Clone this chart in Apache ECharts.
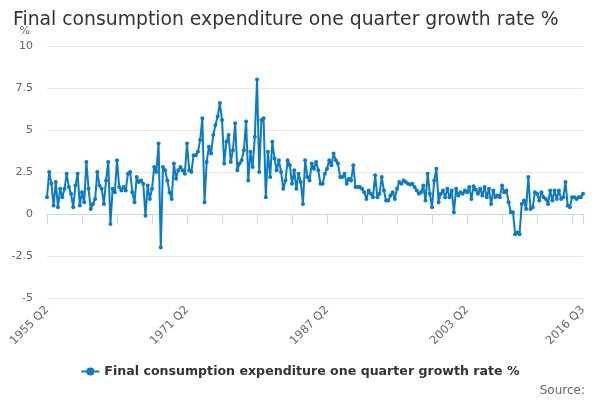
<!DOCTYPE html>
<html>
<head>
<meta charset="utf-8">
<style>
  html, body { margin: 0; padding: 0; background: #fff; }
  #chart { width: 600px; height: 400px; }
</style>
<script src="https://cdn.jsdelivr.net/npm/echarts@6/dist/echarts.min.js"></script>
</head>
<body>
<div id="chart"></div>
<script>
// quarters from 1955 Q2 to 2016 Q3
const startYear = 1955;
const startQuarter = 2;
const seriesName = 'Final consumption expenditure one quarter growth rate %';

// one quarter growth rate, %
const growth = [
    1.0, 2.5, 1.8, 0.5, 1.9, 0.4, 1.5, 1.0, 1.5, 2.4,
    1.6, 1.2, 0.4, 1.7, 2.4, 0.5, 1.3, 0.7, 3.1, 1.5,
    0.3, 0.6, 0.9, 2.5, 1.7, 1.5, 0.6, 2.0, 3.1, -0.6,
    1.5, 1.3, 3.2, 1.6, 1.4, 1.6, 1.4, 2.4, 2.5, 1.3,
    0.7, 2.2, 1.9, 2.0, 1.8, -0.1, 1.7, 0.9, 1.5, 2.8,
    2.5, 4.2, -2.0, 2.8, 2.6, 2.0, 1.3, 0.9, 3.0, 2.1,
    2.6, 2.8, 2.6, 2.4, 4.2, 2.6, 2.5, 3.5, 3.5, 3.7,
    4.4, 5.7, 0.7, 3.1, 4.0, 3.6, 4.7, 5.3, 5.8, 6.6,
    5.6, 3.0, 4.3, 4.7, 3.1, 3.8, 5.4, 2.6, 3.0, 3.2,
    3.8, 5.5, 2.0, 3.7, 2.8, 4.6, 8.0, 2.5, 5.6, 5.7,
    1.0, 3.7, 2.2, 4.3, 3.3, 2.6, 3.2, 2.5, 1.5, 2.0,
    3.2, 2.9, 1.8, 2.6, 1.5, 2.4, 1.9, 0.6, 3.2, 2.2,
    2.0, 3.0, 2.7, 3.1, 2.6, 1.8, 1.8, 2.4, 2.7, 3.2,
    2.9, 3.6, 3.2, 3.0, 2.2, 2.2, 2.4, 1.8, 2.1, 2.0,
    2.9, 1.6, 1.6, 1.6, 1.5, 1.3, 0.9, 1.4, 1.2, 1.0,
    2.3, 1.0, 1.2, 2.2, 1.4, 0.8, 0.8, 1.1, 1.3, 0.9,
    1.5, 1.9, 1.8, 2.0, 1.9, 1.8, 1.75, 1.8, 1.6, 1.4,
    1.2, 1.3, 1.7, 0.8, 2.4, 1.2, 0.4, 2.0, 2.7, 0.7,
    1.2, 1.4, 1.0, 1.5, 1.0, 1.4, 0.1, 1.5, 1.1, 1.3,
    1.2, 1.4, 1.3, 1.6, 0.9, 1.65, 1.45, 1.2, 1.5, 1.1,
    1.6, 1.0, 1.5, 0.6, 1.4, 1.0, 1.1, 1.0, 1.7, 1.3,
    1.4, 0.7, 0.1, 0.1, -1.2, -1.1, -1.2, 0.6, 0.8, 0.3,
    2.2, 0.3, 0.4, 1.3, 1.2, 0.8, 1.3, 1.0, 0.9, 0.6,
    1.4, 0.8, 1.4, 0.9, 1.4, 0.9, 1.0, 1.9, 0.5, 0.4,
    1.0, 1.0, 0.9, 1.0, 1.0, 1.2
];

// category labels
const quarters = [];
for (let i = 0; i < growth.length; i++) {
    let q = startQuarter - 1 + i;
    quarters.push((startYear + Math.floor(q / 4)) + ' Q' + (q % 4 + 1));
}
const lastIndex = quarters.length - 1;

const chart = echarts.init(document.querySelector('#chart'));
chart.setOption({
    animation: false,
    textStyle: {
        fontFamily: 'DejaVu Sans'
    },
    title: [
        {
            text: 'Final consumption expenditure one quarter growth rate %',
            left: 8,
            top: 6,
            textStyle: {
                fontSize: 18.8,
                fontWeight: 'normal',
                color: '#333'
            }
        },
        {
            text: 'Source:',
            right: 10,
            top: 380,
            textStyle: {
                fontSize: 12,
                fontWeight: 'normal',
                color: '#666'
            }
        }
    ],
    legend: {
        bottom: 17,
        left: 'center',
        itemWidth: 18,
        itemHeight: 10,
        itemGap: 6,
        textStyle: {
            fontSize: 12.6,
            fontWeight: 'bold',
            color: '#333'
        },
        data: [seriesName]
    },
    grid: {
        left: 47,
        right: 17,
        top: 46,
        bottom: 102
    },
    xAxis: {
        type: 'category',
        data: quarters,
        boundaryGap: false,
        axisLine: {
            lineStyle: {
                color: '#ccd6eb'
            }
        },
        axisTick: {
            length: 10,
            interval: (index) => index % 16 === 0 || index === lastIndex,
            lineStyle: {
                color: '#ccd6eb'
            }
        },
        axisLabel: {
            rotate: 45,
            fontSize: 11.5,
            color: '#666',
            margin: 10,
            interval: (index) => index % 64 === 0 || index === lastIndex
        }
    },
    yAxis: {
        type: 'value',
        min: -5,
        max: 10,
        interval: 2.5,
        name: '%',
        nameLocation: 'end',
        nameGap: 9,
        nameTextStyle: {
            fontSize: 11,
            color: '#666',
            align: 'right',
            padding: [0, 17, 0, 0]
        },
        axisLine: { show: false },
        axisTick: { show: false },
        axisLabel: {
            fontSize: 11,
            color: '#666',
            margin: 14
        },
        splitLine: {
            lineStyle: {
                color: '#e6e6e6'
            }
        }
    },
    series: [
        {
            name: seriesName,
            type: 'line',
            data: growth,
            symbol: 'circle',
            symbolSize: 4,
            showAllSymbol: true,
            color: '#0a7bc4',
            lineStyle: {
                width: 2
            }
        }
    ]
});
</script>
</body>
</html>
